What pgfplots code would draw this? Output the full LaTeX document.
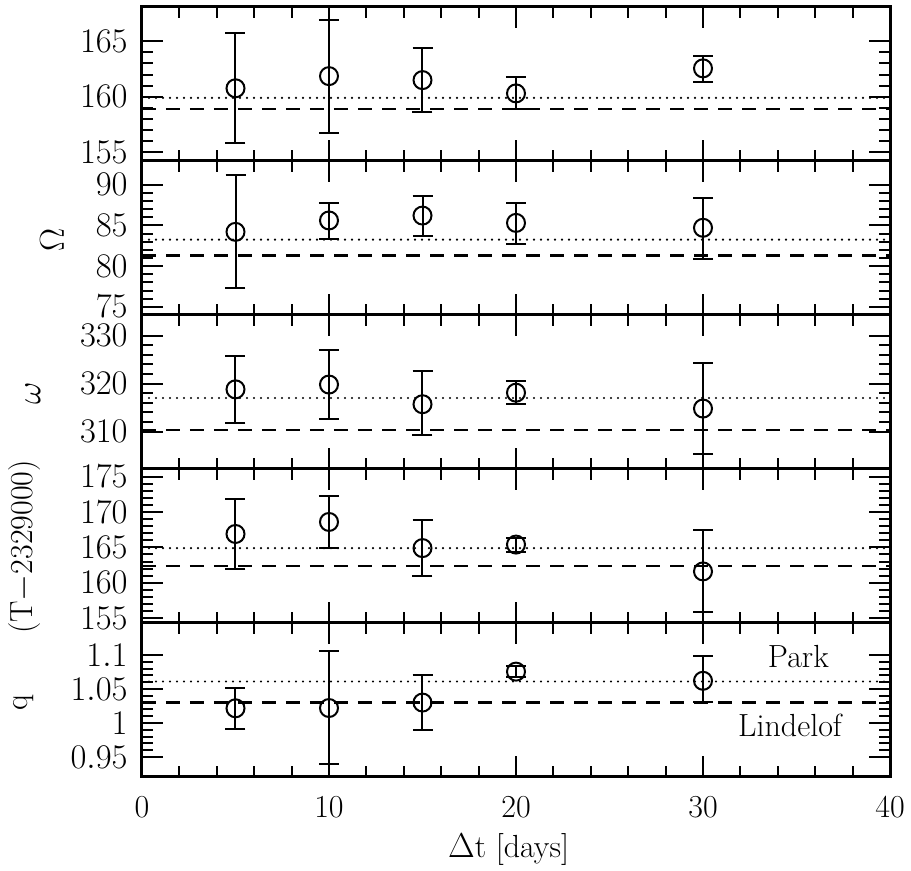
\documentclass[border=0pt]{standalone}
\usepackage{pgfplots}
\pgfplotsset{compat=1.18}
\begin{document}
\begin{tikzpicture}[font=\fontsize{16}{19}\selectfont]
\useasboundingbox (-71pt,-47pt) rectangle (384.5pt,388.5pt);
\pgfplotsset{
  panel/.style={
    scale only axis, width=374pt, height=77pt,
    anchor=south west,
    xmin=0, xmax=40,
    xtick={0,10,...,40}, minor x tick num=4,
    minor y tick num=4,
    tick align=inside,
    major tick length=10.5pt, minor tick length=5.5pt,
    axis line style={line width=1.5pt},
    every tick/.style={black, line width=1pt},
    xticklabels={},
    yticklabel style={xshift=-6pt, inner xsep=1pt, inner ysep=0pt},
    clip=false,
  },
  pts/.style={only marks, mark=o, mark size=4.5pt, line width=1pt, black,
    error bars/.cd, y dir=both, y explicit,
    error bar style={line width=1pt},
    error mark options={rotate=90, mark size=5pt, line width=1pt}},
  park/.style={black, line width=1.2pt, line cap=round, dash pattern=on 0pt off 3.5pt},
  lind/.style={black, line width=1.1pt, dash pattern=on 7pt off 5pt},
}

% panel 1
\begin{axis}[panel, at={(0,308pt)}, ymin=154.2, ymax=168.1, ytick={155,160,165}]
\addplot[park] coordinates {(0,159.9) (40,159.9)};
\addplot[lind] coordinates {(0,158.9) (40,158.9)};
\addplot[pts] table[x=x, y=y, y error plus=ep, y error minus=em, row sep=\\] {
x y ep em \\
5 160.76 5.0 4.9 \\
10 161.86 5.1 5.1 \\
15 161.5 2.9 2.9 \\
20 160.3 1.5 1.4 \\
30 162.56 1.1 1.2 \\
};
\end{axis}

% panel 2: Omega
\begin{axis}[panel, at={(0,231pt)}, ymin=74.0, ymax=92.9, ytick={75,80,85,90}]
\addplot[park] coordinates {(0,83.25) (40,83.25)};
\addplot[lind] coordinates {(0,81.3) (40,81.3)};
\addplot[pts] table[x=x, y=y, y error plus=ep, y error minus=em, row sep=\\] {
x y ep em \\
5 84.2 7.0 6.9 \\
10 85.6 2.2 2.3 \\
15 86.2 2.4 2.5 \\
20 85.3 2.4 2.6 \\
30 84.7 3.7 3.8 \\
};
\end{axis}

% panel 3: omega
\begin{axis}[panel, at={(0,154pt)}, ymin=302.2, ymax=334.3, ytick={310,320,330}]
\addplot[park] coordinates {(0,317.0) (40,317.0)};
\addplot[lind] coordinates {(0,310.3) (40,310.3)};
\addplot[pts] table[x=x, y=y, y error plus=ep, y error minus=em, row sep=\\] {
x y ep em \\
5 318.8 7.0 7.1 \\
10 319.8 7.2 7.1 \\
15 315.7 6.9 6.5 \\
20 318.1 2.4 2.4 \\
30 314.8 9.4 9.5 \\
};
\end{axis}

% panel 4: T
\begin{axis}[panel, at={(0,77pt)}, ymin=154.3, ymax=176.1, ytick={155,160,...,175}]
\addplot[park] coordinates {(0,164.9) (40,164.9)};
\addplot[lind] coordinates {(0,162.4) (40,162.4)};
\addplot[pts] table[x=x, y=y, y error plus=ep, y error minus=em, row sep=\\] {
x y ep em \\
5 166.9 4.9 5.0 \\
10 168.6 3.7 3.7 \\
15 164.9 4.0 4.0 \\
20 165.4 0.9 1.0 \\
30 161.6 5.8 5.7 \\
};
\end{axis}

% panel 5: q
\begin{axis}[panel, at={(0,0pt)}, ymin=0.9206, ymax=1.147,
  ytick={0.95,1,1.05,1.1},
  xticklabels={0,10,20,30,40},
  xticklabel style={yshift=-6pt},
  xlabel={$\Delta$t [days]},
  xlabel style={at={(axis description cs:0.49,0)}, anchor=center, yshift=-36.5pt}]
\addplot[park] coordinates {(0,1.061) (40,1.061)};
\addplot[lind] coordinates {(0,1.030) (40,1.030)};
\addplot[pts] table[x=x, y=y, y error plus=ep, y error minus=em, row sep=\\] {
x y ep em \\
5 1.0216 0.030 0.030 \\
10 1.022 0.084 0.082 \\
15 1.030 0.040 0.040 \\
20 1.0755 0.008 0.008 \\
30 1.062 0.0365 0.031 \\
};
\node at (axis cs:35.1,1.0975) {Park};
\node at (axis cs:34.65,0.997) {Lindelof};
\end{axis}

\node[rotate=90] at (-45pt,268.5pt) {$\Omega$};
\node[rotate=90] at (-54.5pt,192pt) {$\omega$};
\node[rotate=90] at (-58.5pt,115pt) {(T$-$2329000)};
\node[rotate=90, inner sep=1pt] at (-59pt,37pt) {q};
\end{tikzpicture}
\end{document}
